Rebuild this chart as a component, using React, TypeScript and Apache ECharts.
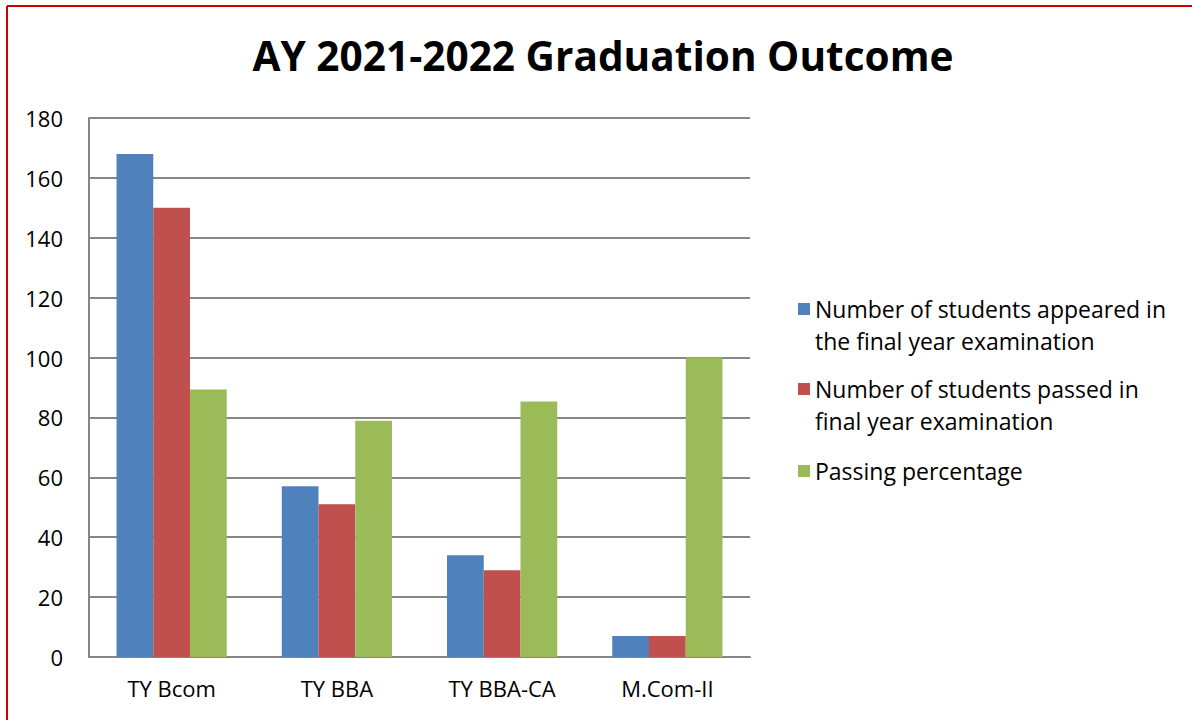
import React, { useEffect, useRef } from "react";
import * as echarts from "echarts";

const categories = ["TY Bcom", "TY BBA", "TY BBA-CA", "M.Com-II"];
const appeared = [168, 57, 34, 7];
const passed = [150, 51, 29, 7];
const passingPct = [89.3, 78.9, 85.3, 100];
const seriesNames = [
  "Number of students appeared in\nthe final year examination",
  "Number of students passed in\nfinal year examination",
  "Passing percentage",
];
const colors = ["#4F81BD", "#C0504D", "#9BBB59"];
const FONT = "Open Sans";

export default function App() {
  const ref = useRef<HTMLDivElement>(null);
  useEffect(() => {
    if (!ref.current) return;
    const chart = echarts.init(ref.current, null, { renderer: "svg" });
    const tallIcon = "path://M0,0L12,0L12,12L0,12Z M0,44L0.01,44Z";
    const legendBase = {
      left: 793,
      orient: "vertical",
      itemGap: 16,
      selectedMode: false,
      textStyle: { fontFamily: FONT, fontSize: 23, color: "#000", lineHeight: 32 },
    };
    chart.setOption({
      animation: false,
      backgroundColor: "#fff",
      title: {
        text: "AY 2021-2022 Graduation Outcome",
        left: 598,
        textAlign: "center",
        top: 30,
        textStyle: { fontFamily: FONT, fontSize: 40.6, fontWeight: "bold", color: "#000" },
      },
      legend: [
        {
          ...legendBase,
          top: 288,
          itemWidth: 12,
          itemHeight: 44,
          data: [{ name: seriesNames[0], icon: tallIcon }],
        },
        {
          ...legendBase,
          top: 368,
          itemWidth: 12,
          itemHeight: 44,
          data: [{ name: seriesNames[1], icon: tallIcon }],
        },
        {
          ...legendBase,
          top: 450,
          itemWidth: 12,
          itemHeight: 12,
          data: [{ name: seriesNames[2], icon: "rect" }],
        },
      ],
      grid: { left: 89, right: 442, top: 118, bottom: 63, containLabel: false },
      xAxis: {
        type: "category",
        data: categories,
        axisLine: { lineStyle: { color: "#868686", width: 2 } },
        axisTick: { show: false },
        axisLabel: { fontFamily: FONT, fontSize: 22, color: "#000", margin: 20 },
      },
      yAxis: {
        type: "value",
        min: 0,
        max: 180,
        interval: 20,
        axisLine: { show: true, lineStyle: { color: "#868686", width: 2 } },
        axisTick: { show: false },
        splitLine: { lineStyle: { color: "#868686", width: 2 } },
        axisLabel: { fontFamily: FONT, fontSize: 22, color: "#000", margin: 26 },
      },
      series: [appeared, passed, passingPct].map((d, i) => ({
        name: seriesNames[i],
        type: "bar",
        data: d,
        barGap: "0%",
        barCategoryGap: "33.3%",
        itemStyle: { color: colors[i] },
      })),
      graphic: [
        { type: "line", shape: { x1: 7, y1: 6, x2: 1192, y2: 6 }, style: { stroke: "#CC0000", lineWidth: 2 } },
        { type: "line", shape: { x1: 7, y1: 6, x2: 7, y2: 720 }, style: { stroke: "#CC0000", lineWidth: 2 } },
      ],
    });
    return () => chart.dispose();
  }, []);
  return (
    <div
      ref={ref}
      style={{ position: "absolute", left: 0, top: 0, width: 1192, height: 720 }}
    />
  );
}
